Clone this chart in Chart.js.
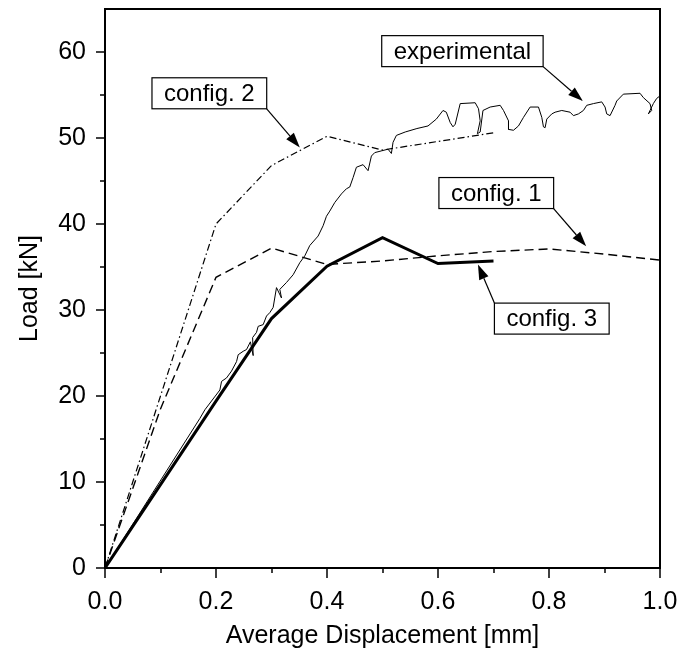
<!DOCTYPE html>
<html>
<head>
<meta charset="utf-8">
<script src="https://cdn.jsdelivr.net/npm/chart.js@4"></script>
<style>
  body { margin: 0; background: #fff; }
</style>
</head>
<body>
<canvas id="grafico" width="683" height="654"></canvas>
<script>
// curva experimental
const expX = [0, 0.171, 0.180, 0.207, 0.210, 0.219, 0.228, 0.237, 0.240, 0.249, 0.255, 0.262, 0.267, 0.266,
  0.273, 0.276, 0.285, 0.291, 0.297, 0.303, 0.309, 0.318, 0.315, 0.327, 0.339, 0.351, 0.360, 0.369,
  0.384, 0.393, 0.399, 0.405, 0.414, 0.426, 0.435, 0.441, 0.447, 0.453, 0.465, 0.474, 0.480, 0.486,
  0.498, 0.510, 0.516, 0.519, 0.525, 0.541, 0.562, 0.582, 0.597, 0.609, 0.615, 0.622, 0.627, 0.631,
  0.640, 0.667, 0.673, 0.676, 0.671, 0.676, 0.681, 0.694, 0.712, 0.718, 0.727, 0.727, 0.736, 0.745,
  0.754, 0.766, 0.781, 0.787, 0.790, 0.793, 0.796, 0.805, 0.811, 0.823, 0.838, 0.844, 0.853, 0.862,
  0.868, 0.880, 0.895, 0.901, 0.904, 0.910, 0.919, 0.922, 0.934, 0.964, 0.970, 0.982, 0.985, 0.979,
  0.988, 0.994, 1.0]
const expY = [0, 17.4, 18.4, 20.7, 21.7, 22.1, 22.9, 24.0, 24.8, 25.2, 25.4, 26.3, 24.7, 26.8,
  27.4, 28.1, 28.3, 29.3, 29.7, 30.3, 32.6, 31.4, 32.4, 33.2, 34.1, 35.5, 36.3, 37.5,
  38.6, 39.8, 40.9, 41.5, 42.5, 43.5, 44.1, 44.3, 45.4, 46.6, 46.9, 46.2, 47.9, 48.3,
  48.5, 48.7, 48.2, 49.5, 50.3, 50.7, 51.1, 51.4, 52.2, 53.2, 53.0, 51.8, 51.3, 51.6,
  54.0, 54.1, 53.4, 52.0, 50.5, 50.7, 53.2, 53.6, 53.8, 53.2, 52.0, 51.0, 50.9, 51.4,
  52.4, 53.6, 53.6, 52.4, 51.3, 51.2, 52.2, 52.8, 53.0, 53.2, 53.0, 52.6, 52.8, 53.2,
  53.8, 54.0, 54.2, 53.6, 52.8, 52.6, 53.8, 54.3, 55.1, 55.2, 54.7, 54.0, 53.2, 52.8,
  54.0, 54.6, 54.9]

// configurações numéricas
const c1X = [0, 0.1, 0.2, 0.3, 0.4, 0.5, 0.6, 0.7, 0.8, 0.9, 1.0]
const c1Y = [0, 18.5, 33.8, 37.2, 35.3, 35.7, 36.3, 36.8, 37.1, 36.5, 35.8]
const c2X = [0, 0.1, 0.2, 0.3, 0.4, 0.5, 0.6, 0.7]
const c2Y = [0, 20.0, 40.0, 46.8, 50.2, 48.6, 49.6, 50.6]
const c3X = [0, 0.1, 0.2, 0.3, 0.4, 0.5, 0.6, 0.7]
const c3Y = [0, 9.7, 19.4, 29.0, 35.1, 38.4, 35.4, 35.7]

// rótulos com seta (centro da caixa e ponta da seta, em unidades dos eixos)
const rotulos = ['config. 2', 'experimental', 'config. 1', 'config. 3']
const rotuloX = [0.188, 0.644, 0.705, 0.805]
const rotuloY = [55.2, 60.1, 43.6, 29.0]
const setaX = [0.351, 0.861, 0.867, 0.672]
const setaY = [48.9, 54.3, 37.4, 35.3]

const fonte = 'Liberation Sans, Arial, Helvetica, sans-serif'
Chart.defaults.font.family = fonte
Chart.defaults.color = '#000'

function pontos(xs, ys){
  return xs.map((x, i) => ({x: x, y: ys[i]}))
}

//Zera o espaço extra que o Chart.js reserva para os rótulos das pontas
function semPadding(s){
  s.paddingTop = 0
  s.paddingBottom = 0
  s.paddingLeft = 0
  s.paddingRight = 0
}

// moldura, marcas dos eixos e rótulos com setas
const extras = {
  id: 'extras',
  afterDatasetsDraw(chart){
    const ctx = chart.ctx
    const a = chart.chartArea
    const sx = chart.scales.x
    const sy = chart.scales.y
    ctx.save()
    ctx.strokeStyle = '#000'
    ctx.lineWidth = 2
    ctx.strokeRect(a.left, a.top, a.right - a.left, a.bottom - a.top)

    //marcas do eixo x
    ctx.lineWidth = 1.5
    for(let i = 0; i <= 10; i++){
      const px = Math.round(sx.getPixelForValue(i / 10))
      const len = i % 2 === 0 ? 10 : 5
      ctx.beginPath()
      ctx.moveTo(px, a.bottom)
      ctx.lineTo(px, a.bottom + len)
      ctx.stroke()
    }
    //marcas do eixo y
    for(let v = 0; v <= 60; v += 5){
      const py = Math.round(sy.getPixelForValue(v))
      const len = v % 10 === 0 ? 9 : 5
      ctx.beginPath()
      ctx.moveTo(a.left, py)
      ctx.lineTo(a.left - len, py)
      ctx.stroke()
    }

    //rótulos
    ctx.font = '24px ' + fonte
    ctx.textAlign = 'center'
    ctx.textBaseline = 'middle'
    for(let i = 0; i < rotulos.length; i++){
      const cx = sx.getPixelForValue(rotuloX[i])
      const cy = sy.getPixelForValue(rotuloY[i])
      const w = ctx.measureText(rotulos[i]).width + 24
      const h = 31
      const x0 = cx - w / 2
      const y0 = cy - h / 2
      ctx.fillStyle = '#fff'
      ctx.fillRect(x0, y0, w, h)
      ctx.lineWidth = 1.2
      ctx.strokeRect(x0, y0, w, h)
      ctx.fillStyle = '#000'
      ctx.fillText(rotulos[i], cx, cy + 1)

      const tx = sx.getPixelForValue(setaX[i])
      const ty = sy.getPixelForValue(setaY[i])
      const ox = tx > cx ? x0 + w : x0
      const oy = ty > cy ? y0 + h : y0
      const ang = Math.atan2(ty - oy, tx - ox)
      const L = 15, W = 5
      const bx = tx - L * Math.cos(ang)
      const by = ty - L * Math.sin(ang)
      ctx.beginPath()
      ctx.moveTo(ox, oy)
      ctx.lineTo(bx, by)
      ctx.stroke()
      ctx.beginPath()
      ctx.moveTo(tx, ty)
      ctx.lineTo(bx + W * Math.sin(ang), by - W * Math.cos(ang))
      ctx.lineTo(bx - W * Math.sin(ang), by + W * Math.cos(ang))
      ctx.closePath()
      ctx.fill()
    }
    ctx.restore()
  }
}

const ctx = document.getElementById('grafico')

let grafico = new Chart(ctx, {
  type: 'scatter',
  data: {
    datasets: [{
      label: 'experimental',
      data: pontos(expX, expY),
      borderColor: '#000',
      borderWidth: 1,
      showLine: true,
      pointRadius: 0
    }, {
      label: 'config. 1',
      data: pontos(c1X, c1Y),
      borderColor: '#000',
      borderWidth: 1.4,
      borderDash: [9, 5],
      showLine: true,
      pointRadius: 0
    }, {
      label: 'config. 2',
      data: pontos(c2X, c2Y),
      borderColor: '#000',
      borderWidth: 1.2,
      borderDash: [7, 3, 1.5, 3],
      showLine: true,
      pointRadius: 0
    }, {
      label: 'config. 3',
      data: pontos(c3X, c3Y),
      borderColor: '#000',
      borderWidth: 3,
      showLine: true,
      pointRadius: 0
    }]
  },
  options: {
    responsive: false,
    animation: false,
    layout: { padding: { top: 9, right: 23, left: 0, bottom: 0 } },
    plugins: {
      legend: { display: false },
      tooltip: { enabled: false }
    },
    scales: {
      x: {
        type: 'linear',
        min: 0,
        max: 1,
        grid: { display: false, drawTicks: false },
        border: { display: false },
        ticks: {
          stepSize: 0.2,
          padding: 19,
          font: { size: 25 },
          maxRotation: 0,
          callback: v => v.toFixed(1)
        },
        title: {
          display: true,
          text: 'Average Displacement [mm]',
          font: { size: 25 },
          padding: { top: 0, bottom: 3 }
        },
        afterFit: s => { s.height = 86; semPadding(s) }
      },
      y: {
        type: 'linear',
        min: 0,
        max: 65,
        grid: { display: false, drawTicks: false },
        border: { display: false },
        ticks: {
          stepSize: 10,
          padding: 19,
          font: { size: 25 },
          callback: v => (v % 10 === 0 ? v : '')
        },
        title: {
          display: true,
          text: 'Load [kN]',
          font: { size: 25 },
          padding: { top: 15, bottom: 0 }
        },
        afterFit: s => { s.width = 105; semPadding(s) }
      }
    }
  },
  plugins: [extras]
});
</script>
</body>
</html>
